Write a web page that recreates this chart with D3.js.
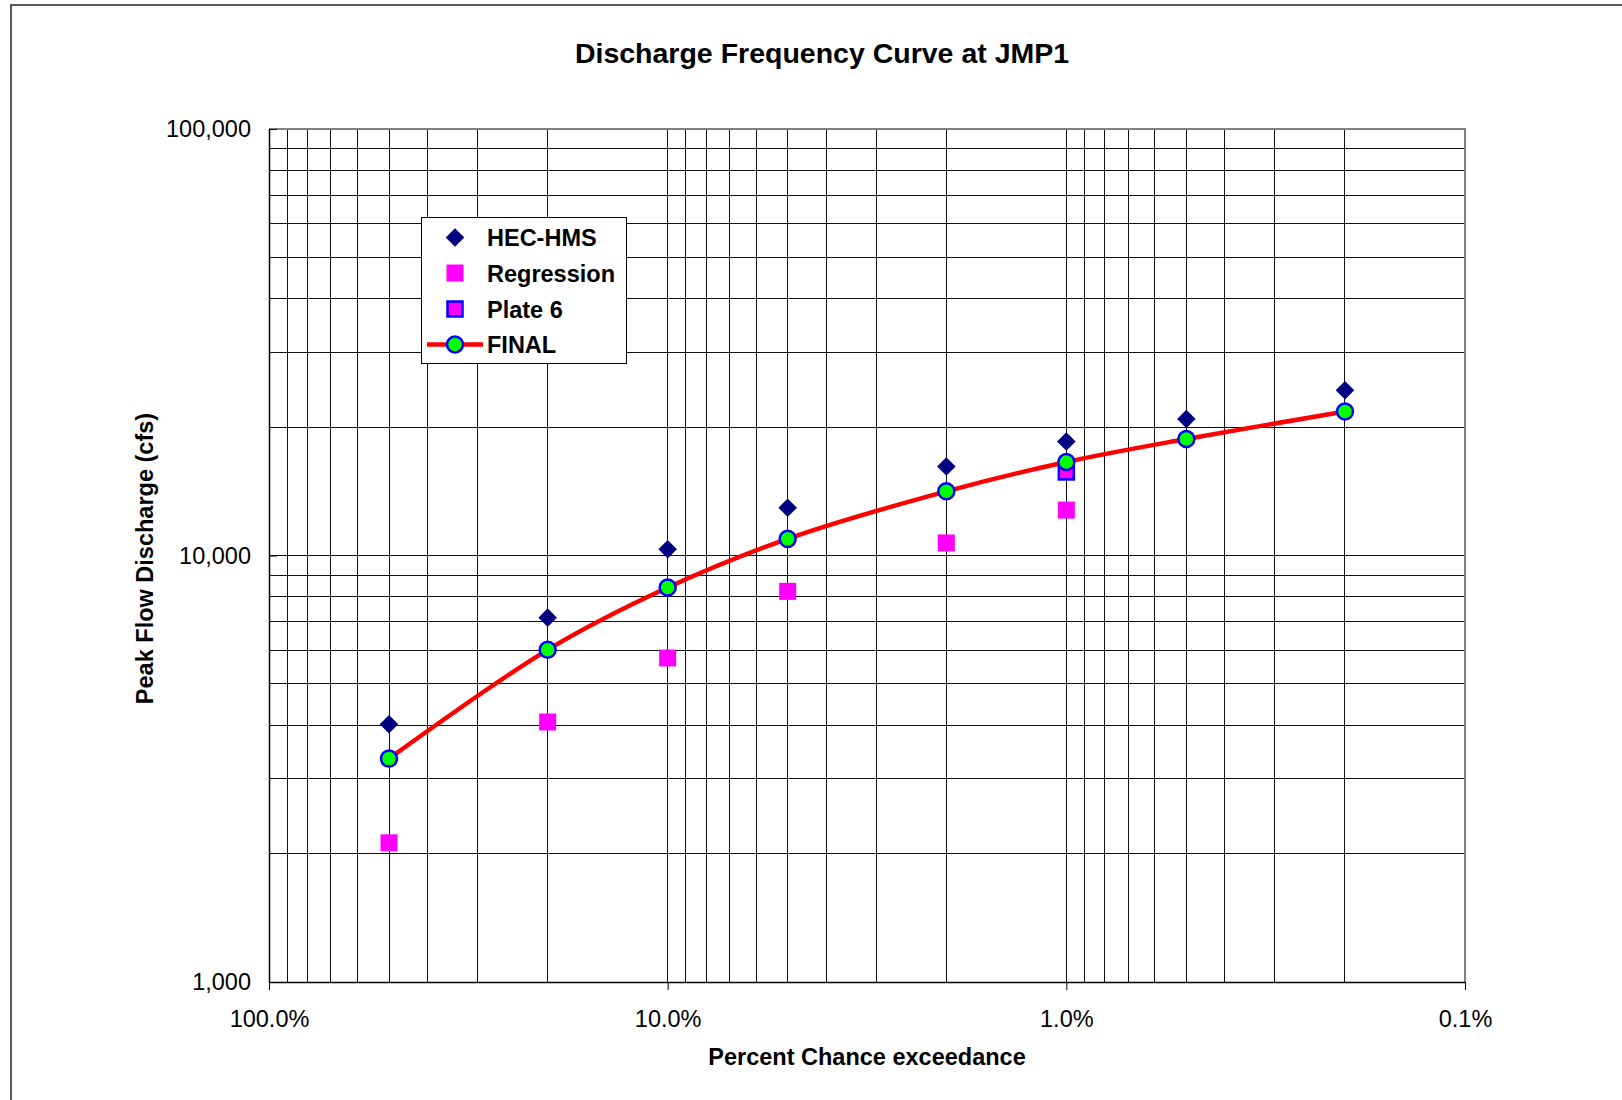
<!DOCTYPE html>
<html>
<head>
<meta charset="utf-8">
<script src="https://cdn.jsdelivr.net/npm/d3@7"></script>
<style>
  html, body { margin: 0; padding: 0; background: #fff; }
  svg { display: block; }
  text { font-family: "Liberation Sans", Arial, sans-serif; fill: #000; }
</style>
</head>
<body>
<svg id="chart" width="1622" height="1100"></svg>
<script>
// ---- data ----
const titleText = "Discharge Frequency Curve at JMP1";
const xTitle = "Percent Chance exceedance";
const yTitle = "Peak Flow Discharge (cfs)";

const percents = [50, 20, 10, 5, 2, 1, 0.5, 0.2];
const hecHms = [4020, 7150, 10340, 12940, 16170, 18500, 20900, 24400];
const regressionPercents = [50, 20, 10, 5, 2, 1];
const regression = [2120, 4070, 5750, 8240, 10700, 12780];
const plate6Percents = [1];
const plate6 = [15700];
const finalQ = [3340, 6010, 8410, 10940, 14140, 16570, 18760, 21750];

const xTickValues = [100, 10, 1, 0.1];
const xTickLabels = ["100.0%", "10.0%", "1.0%", "0.1%"];
const yTickValues = [1000, 10000, 100000];
const yTickLabels = ["1,000", "10,000", "100,000"];

const legendNames = ["HEC-HMS", "Regression", "Plate 6", "FINAL"];

// ---- layout ----
const svg = d3.select("#chart");
const plot = { left: 269, right: 1465, top: 129, bottom: 982 };

const x = d3.scaleLog().domain([100, 0.1]).range([plot.left, plot.right]);
const y = d3.scaleLog().domain([1000, 100000]).range([plot.bottom, plot.top]);

// outer chart border (extends beyond viewport on right/bottom)
svg.append("rect")
  .attr("x", 11).attr("y", 5).attr("width", 1640).attr("height", 1120)
  .attr("fill", "#fff").attr("stroke", "#222").attr("stroke-width", 1.5);

// gridlines
const xGrid = [];
[100, 10, 1].forEach(d => { for (let k = 1; k <= 9; k++) xGrid.push(d * k / 10); });
xGrid.push(0.1);
const yGrid = [];
[1000, 10000].forEach(d => { for (let k = 1; k <= 9; k++) yGrid.push(d * k); });
yGrid.push(100000);

const grid = svg.append("g").attr("shape-rendering", "crispEdges");
grid.selectAll("line.v").data(xGrid).join("line")
  .attr("x1", d => x(d)).attr("x2", d => x(d))
  .attr("y1", plot.top).attr("y2", plot.bottom)
  .attr("stroke", "#111").attr("stroke-width", 1);
grid.selectAll("line.h").data(yGrid).join("line")
  .attr("y1", d => y(d)).attr("y2", d => y(d))
  .attr("x1", plot.left).attr("x2", plot.right)
  .attr("stroke", "#111").attr("stroke-width", 1);

// plot area border (top/right gray)
svg.append("path")
  .attr("d", `M${plot.left},${plot.top}H${plot.right}V${plot.bottom}`)
  .attr("fill", "none").attr("stroke", "#808080").attr("stroke-width", 2);

// axes
const xAxis = d3.axisBottom(x).tickValues(xTickValues)
  .tickFormat((d, i) => xTickLabels[i]).tickSizeInner(8).tickSizeOuter(0).tickPadding(20);
const gx = svg.append("g").attr("transform", `translate(0,${plot.bottom})`).call(xAxis);
gx.select(".domain").attr("stroke", "#000").attr("stroke-width", 1.5);
gx.selectAll(".tick line").attr("stroke", "#000");
gx.selectAll(".tick text").attr("font-size", "23.5px")
  .style("font-family", '"Liberation Sans", Arial, sans-serif').attr("fill", "#000");

const yAxis = d3.axisLeft(y).tickValues(yTickValues)
  .tickFormat((d, i) => yTickLabels[i]).tickSizeInner(-8).tickSizeOuter(0).tickPadding(18);
const gy = svg.append("g").attr("transform", `translate(${plot.left},0)`).call(yAxis);
gy.select(".domain").attr("stroke", "#000").attr("stroke-width", 1.5);
gy.selectAll(".tick line").attr("stroke", "#000");
gy.selectAll(".tick text").attr("font-size", "23.5px")
  .style("font-family", '"Liberation Sans", Arial, sans-serif').attr("fill", "#000");

// titles
svg.append("text").attr("x", 822).attr("y", 63).attr("text-anchor", "middle")
  .attr("font-size", "28.5px").attr("font-weight", "bold").text(titleText);
svg.append("text").attr("x", (plot.left + plot.right) / 2).attr("y", 1065)
  .attr("text-anchor", "middle").attr("font-size", "23.5px").attr("font-weight", "bold").text(xTitle);
svg.append("text")
  .attr("transform", `translate(153,${(plot.top + plot.bottom) / 2 + 3}) rotate(-90)`)
  .attr("text-anchor", "middle").attr("font-size", "23.5px").attr("font-weight", "bold").text(yTitle);

// ---- series ----
const diamond = d3.symbol().type(d3.symbolDiamond2).size(2 * 10.5 * 10.5)();
function drawDiamond(g, cx, cy) {
  g.append("path").attr("d", diamond).attr("transform", `translate(${cx},${cy})`).attr("fill", "#000080");
}
function drawSquare(g, cx, cy) {
  g.append("rect").attr("x", cx - 8.5).attr("y", cy - 8.5).attr("width", 17).attr("height", 17).attr("fill", "#ff00ff");
}
function drawPlate(g, cx, cy) {
  g.append("rect").attr("x", cx - 7.5).attr("y", cy - 7.5).attr("width", 15).attr("height", 15)
    .attr("fill", "#ff00ff").attr("stroke", "#0000ff").attr("stroke-width", 2.5);
}
function drawCircle(g, cx, cy) {
  g.append("circle").attr("cx", cx).attr("cy", cy).attr("r", 8)
    .attr("fill", "#00ff00").attr("stroke", "#0000ff").attr("stroke-width", 2.5);
}

const marks = svg.append("g");
percents.forEach((p, i) => drawDiamond(marks, x(p), y(hecHms[i])));
regressionPercents.forEach((p, i) => drawSquare(marks, x(p), y(regression[i])));
plate6Percents.forEach((p, i) => drawPlate(marks, x(p), y(plate6[i])));

const line = d3.line().x(d => x(d[0])).y(d => y(d[1])).curve(d3.curveCatmullRom.alpha(0.5));
marks.append("path").datum(percents.map((p, i) => [p, finalQ[i]]))
  .attr("d", line).attr("fill", "none").attr("stroke", "#ff0000").attr("stroke-width", 4.5);
percents.forEach((p, i) => drawCircle(marks, x(p), y(finalQ[i])));

// ---- legend ----
const lg = svg.append("g");
lg.append("rect").attr("x", 421.5).attr("y", 217.5).attr("width", 205).attr("height", 146)
  .attr("fill", "#fff").attr("stroke", "#000").attr("stroke-width", 1);
const rowY = [237.5, 273, 309, 344.5];
drawDiamond(lg, 455, rowY[0]);
drawSquare(lg, 455, rowY[1]);
drawPlate(lg, 455, rowY[2]);
lg.append("line").attr("x1", 427).attr("x2", 483).attr("y1", rowY[3]).attr("y2", rowY[3])
  .attr("stroke", "#ff0000").attr("stroke-width", 4.5);
drawCircle(lg, 455, rowY[3]);
legendNames.forEach((n, i) => {
  lg.append("text").attr("x", 487).attr("y", rowY[i] + 8.5)
    .attr("font-size", "23.5px").attr("font-weight", "bold").text(n);
});
</script>
</body>
</html>
